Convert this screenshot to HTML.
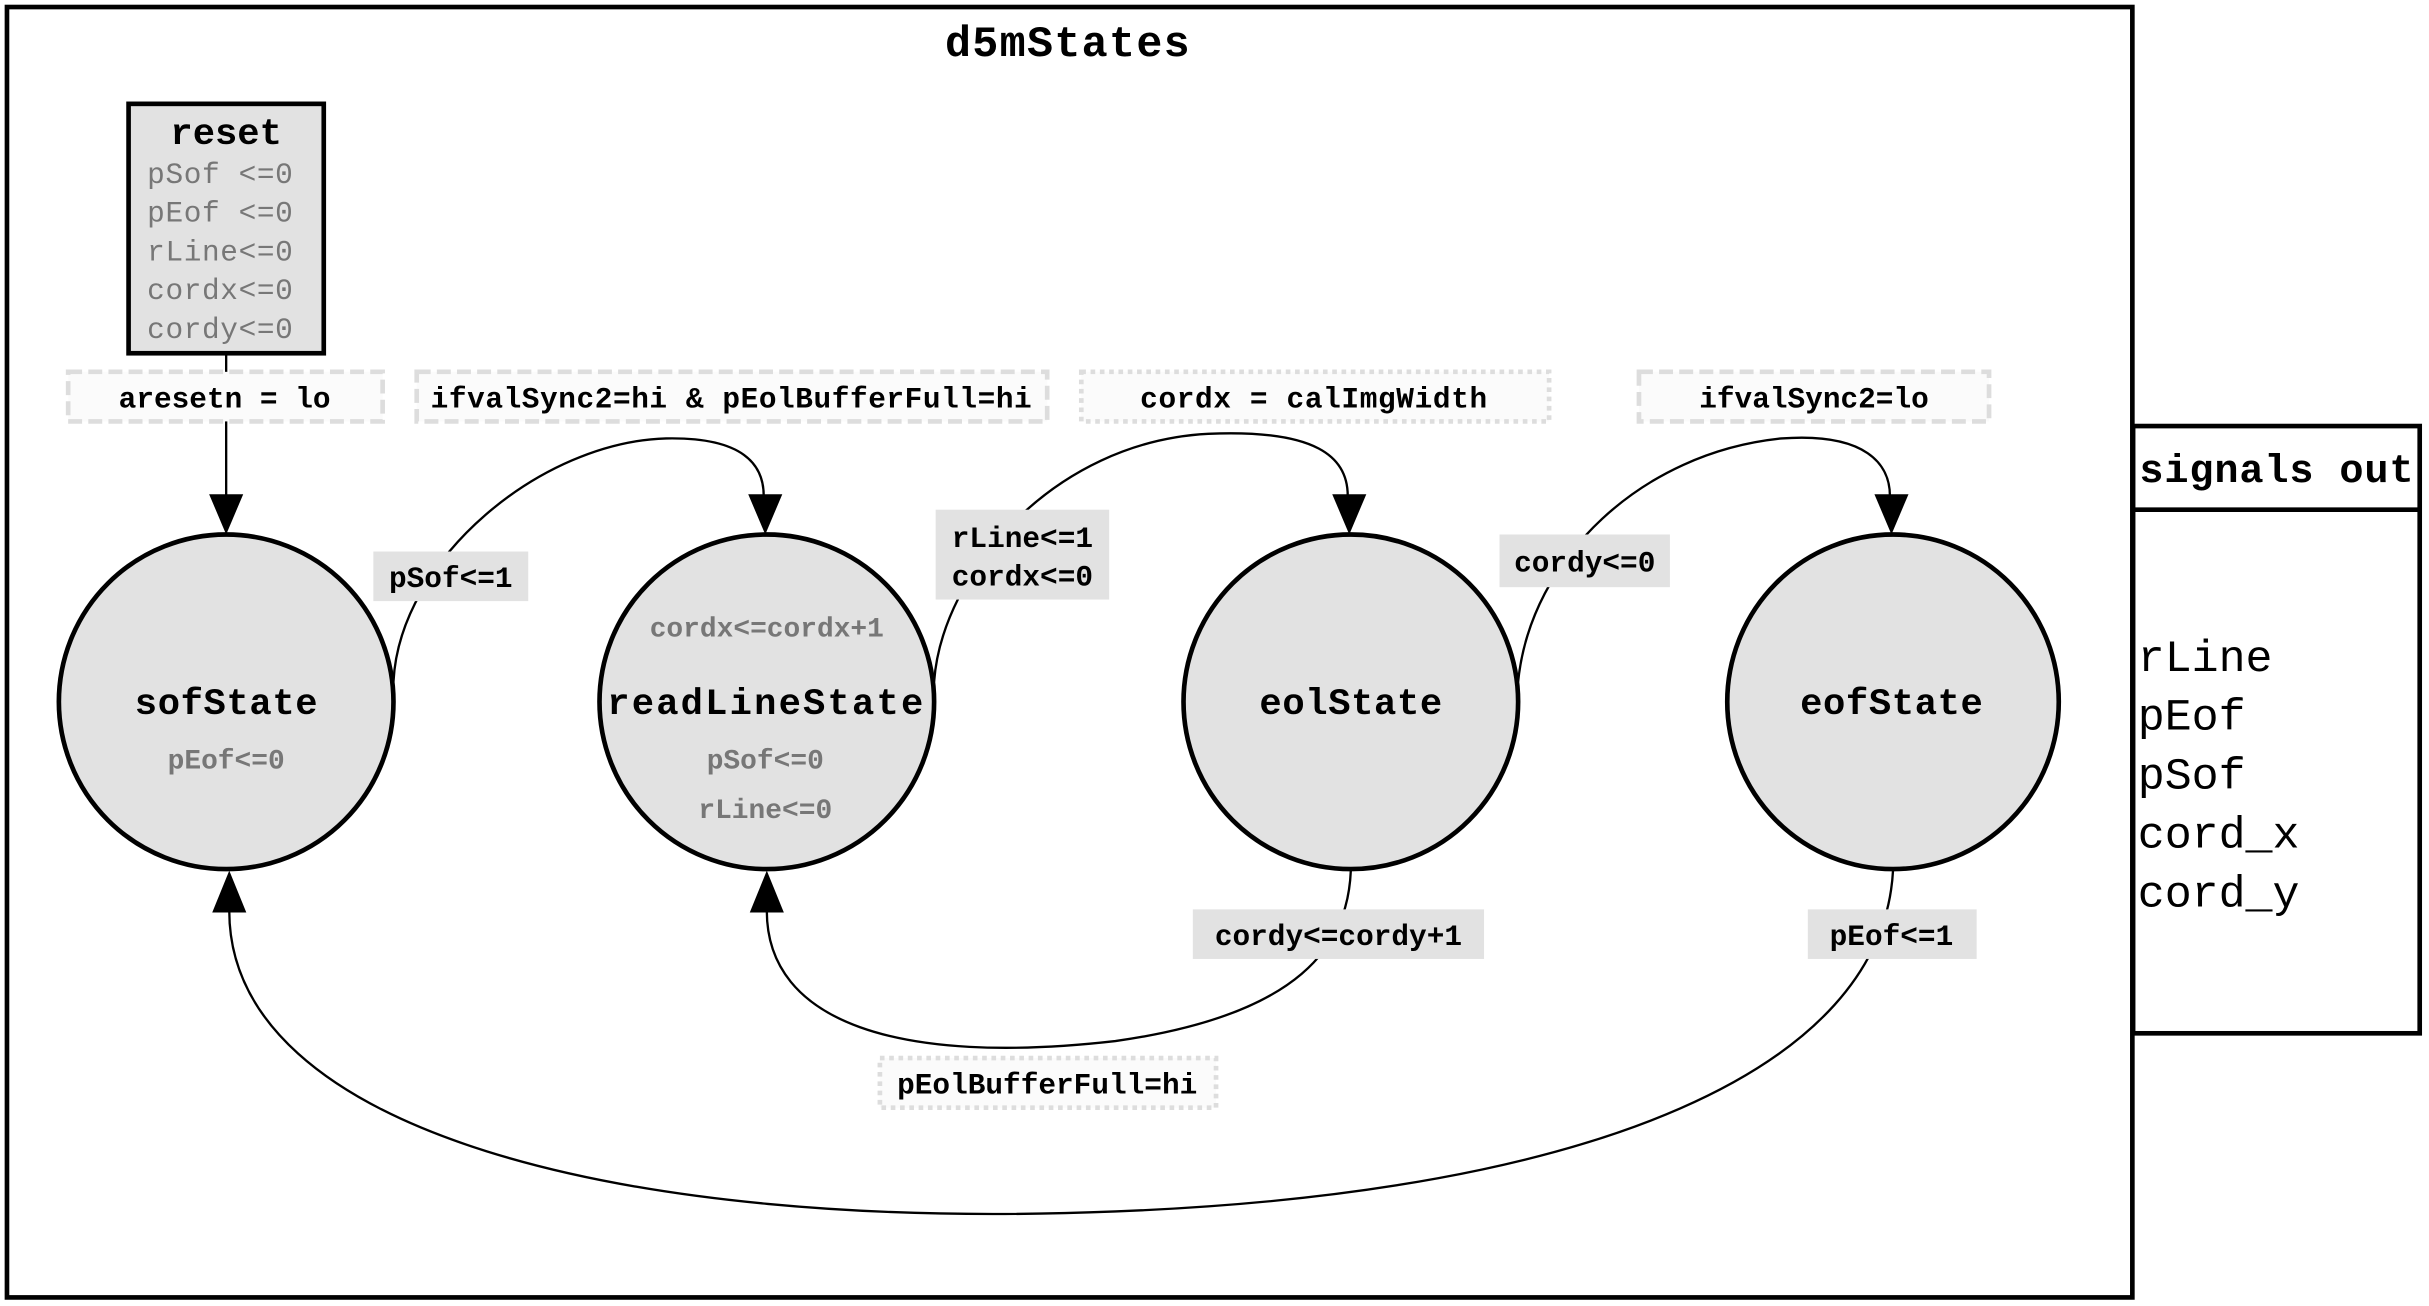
<!DOCTYPE html>
<html><head><meta charset="utf-8"><style>
html,body{margin:0;padding:0;background:#fff;}
svg{display:block;}
text{font-family:"Liberation Mono","DejaVu Sans Mono",monospace;}
.b{font-weight:bold;}
.g{fill:#777;}
.lbl{font-size:19px;font-weight:bold;text-anchor:middle;}
</style></head><body>
<svg width="2429" height="1306" viewBox="0 0 1568 843" xmlns="http://www.w3.org/2000/svg">
<rect x="0" y="0" width="1568" height="843" fill="#fff"/>
<rect x="4.5" y="4.5" width="1372" height="833" fill="none" stroke="#000" stroke-width="3"/>
<text x="689" y="36" class="b" font-size="28" text-anchor="middle" textLength="158">d5mStates</text>

<!-- reset -->
<rect x="83" y="67" width="126" height="161" fill="#e2e2e2" stroke="#000" stroke-width="3"/>
<text x="146" y="93" class="b" font-size="24" text-anchor="middle">reset</text>
<g class="g" font-size="19">
<text x="95" y="118" textLength="94">pSof &lt;=0</text>
<text x="95" y="143" textLength="94">pEof &lt;=0</text>
<text x="95" y="168" textLength="94">rLine&lt;=0</text>
<text x="95" y="193" textLength="94">cordx&lt;=0</text>
<text x="95" y="218" textLength="94">cordy&lt;=0</text>
</g>

<!-- edges -->
<g fill="none" stroke="#000" stroke-width="1.5">
<path d="M146,228 L146,320"/>
<path d="M254,440 C258,360 350,285 430,283 C480,282 493,300 493,320"/>
<path d="M603,440 C608,370 680,285 780,280 C850,277 870,295 870,320"/>
<path d="M980,440 C988,360 1060,292 1150,283 C1205,279 1220,300 1220,320"/>
<path d="M872,562 C870,610 840,655 720,672 C580,688 495,660 495,588"/>
<path d="M1222,562 C1215,690 1030,770 720,782 C400,795 148,730 148,588"/>
</g>
<g fill="#000">
<polygon points="135,319 157,319 146,345"/>
<polygon points="483,319 505,319 494,345"/>
<polygon points="860,319 882,319 871,345"/>
<polygon points="1210,319 1232,319 1221,345"/>
<polygon points="484,589 506,589 495,562"/>
<polygon points="137,589 159,589 148,562"/>
</g>

<!-- condition labels -->
<g fill="#fbfbfb" stroke="#ddd" stroke-width="3">
<rect x="44" y="240" width="203" height="32" stroke-dasharray="9,4"/>
<rect x="269" y="240" width="407" height="32" stroke-dasharray="9,4"/>
<rect x="698" y="240" width="302" height="32" stroke-dasharray="3,3"/>
<rect x="1058" y="240" width="226" height="32" stroke-dasharray="9,4"/>
<rect x="568" y="683" width="217" height="32" stroke-dasharray="3,3"/>
</g>
<text x="145" y="263" class="lbl">aresetn = lo</text>
<text x="472" y="263" class="lbl" textLength="388">ifvalSync2=hi &amp; pEolBufferFull=hi</text>
<text x="848" y="263" class="lbl" textLength="224">cordx = calImgWidth</text>
<text x="1171" y="263" class="lbl">ifvalSync2=lo</text>
<text x="676" y="706" class="lbl">pEolBufferFull=hi</text>

<!-- action labels -->
<g fill="#e2e2e2">
<rect x="241" y="356" width="100" height="32"/>
<rect x="604" y="329" width="112" height="58"/>
<rect x="968" y="345" width="110" height="34"/>
<rect x="770" y="587" width="188" height="32"/>
<rect x="1167" y="587" width="109" height="32"/>
</g>
<text x="291" y="379" class="lbl">pSof&lt;=1</text>
<text x="660" y="353" class="lbl">rLine&lt;=1</text>
<text x="660" y="378" class="lbl">cordx&lt;=0</text>
<text x="1023" y="369" class="lbl">cordy&lt;=0</text>
<text x="864" y="610" class="lbl">cordy&lt;=cordy+1</text>
<text x="1221" y="610" class="lbl">pEof&lt;=1</text>

<!-- states -->
<g fill="#e2e2e2" stroke="#000" stroke-width="3">
<ellipse cx="146" cy="453" rx="108" ry="108"/>
<ellipse cx="495" cy="453" rx="108" ry="108"/>
<ellipse cx="872" cy="453" rx="108" ry="108"/>
<ellipse cx="1222" cy="453" rx="107" ry="108"/>
</g>
<g class="b" font-size="24" text-anchor="middle">
<text x="146" y="461" textLength="118">sofState</text>
<text x="494" y="461" textLength="204">readLineState</text>
<text x="872" y="461" textLength="118">eolState</text>
<text x="1221" y="461" textLength="118">eofState</text>
</g>
<g class="g b" font-size="18" text-anchor="middle">
<text x="146" y="496">pEof&lt;=0</text>
<text x="495" y="411">cordx&lt;=cordx+1</text>
<text x="494" y="496">pSof&lt;=0</text>
<text x="494" y="528">rLine&lt;=0</text>
</g>

<!-- signals out -->
<rect x="1377" y="275" width="185" height="392" fill="#fff" stroke="#000" stroke-width="3"/>
<line x1="1377" y1="329" x2="1562" y2="329" stroke="#000" stroke-width="3"/>
<text x="1381" y="311" class="b" font-size="26" textLength="177">signals out</text>
<g font-size="29">
<text x="1380" y="433">rLine</text>
<text x="1380" y="471">pEof</text>
<text x="1380" y="509">pSof</text>
<text x="1380" y="547">cord_x</text>
<text x="1380" y="585">cord_y</text>
</g>
</svg>
</body></html>
